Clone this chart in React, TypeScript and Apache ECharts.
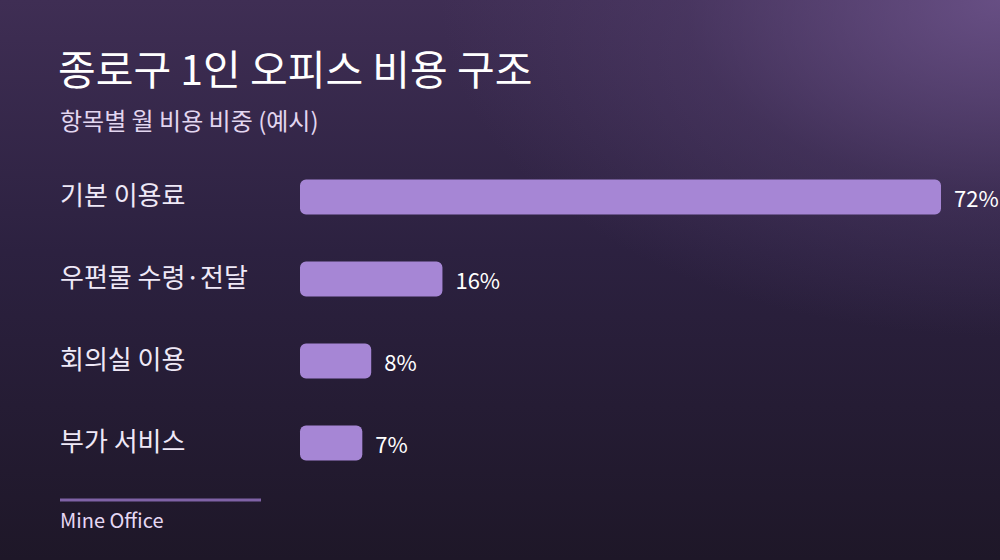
import React, { useEffect, useRef } from 'react';
import * as echarts from 'echarts';

const categories = ['기본 이용료', '우편물 수령·전달', '회의실 이용', '부가 서비스'];
const shares = [72, 16, 8, 7];

const FONT = '"Noto Sans CJK KR", "Noto Sans", sans-serif';

const App: React.FC = () => {
  const chartRef = useRef<HTMLDivElement | null>(null);

  useEffect(() => {
    if (!chartRef.current) return;
    const chart = echarts.init(chartRef.current, undefined, { renderer: 'svg' });

    const option: echarts.EChartsOption = {
      animation: false,
      backgroundColor: 'transparent',
      title: [
        {
          text: '종로구 1인 오피스 비용 구조',
          left: 58,
          top: 46,
          padding: 0,
          textStyle: { color: '#ffffff', fontSize: 41, fontWeight: 'normal', fontFamily: FONT },
        },
        {
          text: '항목별 월 비용 비중 (예시)',
          left: 60,
          top: 107,
          padding: 0,
          textStyle: { color: '#e2d6f0', fontSize: 24, fontWeight: 'normal', fontFamily: FONT },
        },
      ],
      grid: { left: 300, right: 59, top: 156, bottom: 76, containLabel: false },
      xAxis: {
        type: 'value',
        min: 0,
        max: 72,
        show: false,
      },
      yAxis: {
        type: 'category',
        data: categories,
        inverse: true,
        axisLine: { show: false },
        axisTick: { show: false },
        splitLine: { show: false },
        axisLabel: {
          align: 'left',
          margin: 240,
          formatter: '{a|{value}}',
          rich: {
            a: {
              color: '#efe9f7',
              fontSize: 26,
              fontFamily: FONT,
              padding: [0, 0, 8, 0],
            },
          },
        },
      },
      series: [
        {
          type: 'bar',
          data: shares,
          barWidth: 35,
          itemStyle: { color: '#a686d5', borderRadius: 6 },
          label: {
            show: true,
            position: 'right',
            distance: 13,
            formatter: '{c}%',
            color: '#ffffff',
            fontSize: 22,
            fontFamily: FONT,
          },
        },
      ],
      graphic: [
        {
          type: 'line',
          shape: { x1: 60, y1: 500, x2: 261, y2: 500 },
          style: { stroke: '#7f62a6', lineWidth: 3 },
        },
        {
          type: 'text',
          left: 60,
          top: 509,
          style: { text: 'Mine Office', fill: '#e6d8f4', fontSize: 20, fontFamily: FONT },
        },
      ],
    };

    chart.setOption(option);
    return () => {
      chart.dispose();
    };
  }, []);

  return (
    <div
      style={{
        position: 'fixed',
        left: 0,
        top: 0,
        width: 1000,
        height: 560,
        background:
          'radial-gradient(ellipse 700px 420px at 100% 0%, rgba(110,84,140,0.85) 0%, rgba(90,68,118,0.35) 45%, rgba(60,44,82,0) 80%), linear-gradient(180deg, #3f2e54 0%, #2c2140 45%, #1e1728 100%)',
      }}
    >
      <div ref={chartRef} style={{ width: '100%', height: '100%' }} />
    </div>
  );
};

export default App;
